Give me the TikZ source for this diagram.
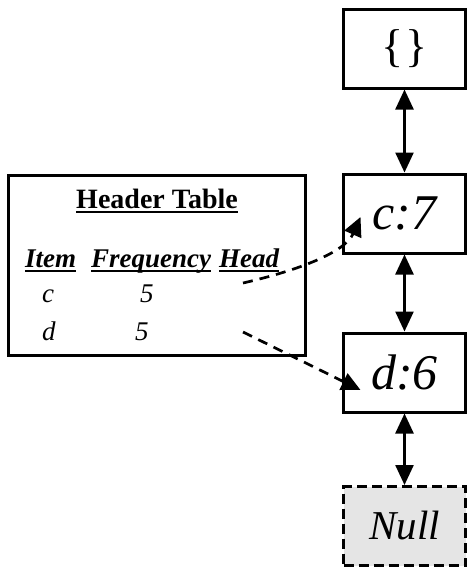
\documentclass[tikz,border=0pt]{standalone}
\usepackage{fontspec}
\setmainfont{Liberation Serif}
\usetikzlibrary{arrows.meta,positioning}

\newcommand{\ulword}[1]{\setbox0\hbox{#1}\rlap{\rule[-5pt]{\wd0}{1.8pt}}\box0}

\tikzset{
  listbox/.style={draw, line width=3pt, minimum width=122pt, minimum height=79pt, inner sep=0pt},
  nullbox/.style={listbox, dash pattern=on 10pt off 5pt, fill=black!10},
  tabtext/.style={inner sep=0pt, anchor=base west, font=\fontsize{27}{32}\selectfont\itshape},
  link/.style={line width=2.5pt, {Triangle[width=18pt,length=20pt]}-{Triangle[width=18pt,length=20pt]}},
  headptr/.style={line width=2.7pt, dash pattern=on 10pt off 7pt, -{Triangle[width=18pt,length=19pt]}},
}

\begin{document}
\begin{tikzpicture}[x=1pt, y=-1pt]
    \useasboundingbox (0,0) rectangle (467,574);

    % the list of nodes
    \node[listbox, font=\fontsize{46}{50}\selectfont] (root) at (404.5,48.5) {\raisebox{-6pt}{\{\kern2pt\}}};
    \node[listbox, font=\fontsize{50}{54}\selectfont\itshape] (c7) at (404.5,213.5) {c:7};
    \node[listbox, font=\fontsize{50}{54}\selectfont\itshape] (d6) at (404.5,372.5) {d:6};
    \node[nullbox, font=\fontsize{41}{46}\selectfont\itshape] (null) at (404.5,526) {Null};

    % header table
    \node[draw, line width=3pt, minimum width=297pt, minimum height=180pt] (htable) at (156.5,265) {};
    \node[inner sep=0pt, anchor=base, font=\fontsize{28}{32}\selectfont\bfseries] (htitle) at (157,208) {\ulword{Header Table}};
    \node[tabtext, font=\fontsize{27}{32}\selectfont\bfseries\itshape] (hitem) at (25,267) {\ulword{Item}};
    \node[tabtext, font=\fontsize{27}{32}\selectfont\bfseries\itshape] (hfreq) at (91,267) {\ulword{Frequency}};
    \node[tabtext, font=\fontsize{27}{32}\selectfont\bfseries\itshape] (hhead) at (219,267) {\ulword{Head}};
    \node[tabtext] (itemc) at (42,302) {c};
    \node[tabtext] (freqc) at (140,302) {5};
    \node[tabtext] (itemd) at (42,340) {d};
    \node[tabtext] (freqd) at (135,340) {5};
    \coordinate (headc) at (243,283);
    \coordinate (headd) at (243,332);

    \path[link]
        (root) edge (c7)
        (c7) edge (d6)
        (d6) edge (null);

    \draw[headptr] (headc) .. controls (300,270) and (345,252) .. ([xshift=18.5pt,yshift=-3.5pt]c7.west);
    \draw[headptr] (headd) -- ([xshift=18.5pt,yshift=-17.5pt]d6.west);
\end{tikzpicture}
\end{document}
